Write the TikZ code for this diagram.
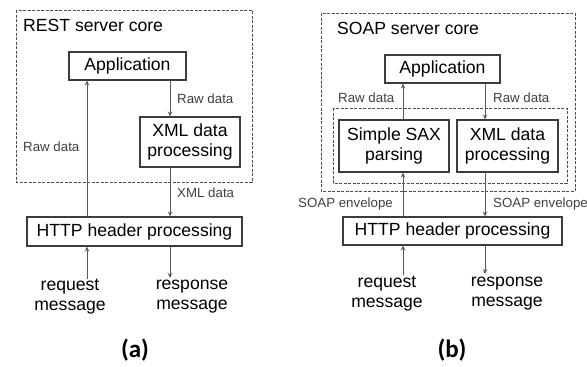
\documentclass[tikz,border=0pt]{standalone}
\usepackage{fontspec}
\setmainfont{Liberation Sans}
\newfontfamily\calib{Carlito}
\usetikzlibrary{arrows.meta}
\definecolor{boxline}{HTML}{3C3C3C}
\definecolor{arrline}{HTML}{5A5A5A}
\definecolor{lbl}{HTML}{404040}
\definecolor{dashc}{HTML}{505050}
\tikzset{
  box/.style={draw=boxline, line width=1.1pt, inner sep=0pt, align=center,
    font=\fontsize{17.6}{20}\selectfont},
  arr/.style={draw=arrline, line width=0.9pt, -{Stealth[length=5pt,width=4.5pt]}},
  lab/.style={text=lbl, inner sep=0pt, font=\fontsize{13.3}{15}\selectfont},
  txt/.style={inner sep=0pt, align=center, font=\fontsize{17.6}{20}\selectfont},
  corebox/.style={draw=dashc, line width=0.8pt, dash pattern=on 3pt off 1.5pt},
  panelcap/.style={inner sep=0pt, font=\calib\bfseries\fontsize{25}{28}\selectfont}
}
\begin{document}
\begin{tikzpicture}[x=1pt,y=-1pt]
\useasboundingbox (0,0) rectangle (587,367);
% ---------------- (a) REST ----------------
\draw[corebox] (16,10) rectangle (252,182);
\node[txt, anchor=west] (resttitle) at (23,25) {REST server core};
\node[box, minimum width=117pt, minimum height=28pt] (appA) at (127.5,66) {Application};
\node[box, minimum width=100pt, minimum height=50pt] (xmlA) at (190,142) {XML data\\processing};
\node[box, minimum width=215pt, minimum height=29pt] (httpA) at (134.5,231.5) {HTTP header processing};
\coordinate (xa1) at (87,0);
\coordinate (xa2) at (170,0);
\coordinate (reqA) at (87,279);
\coordinate (resA) at (170,278);
\draw[arr] (httpA.north -| xa1) -- (appA.south -| xa1);
\draw[arr] (appA.south -| xa2) -- (xmlA.north -| xa2);
\draw[arr] (xmlA.south -| xa2) -- (httpA.north -| xa2);
\draw[arr] (reqA) -- (httpA.south -| xa1);
\draw[arr] (httpA.south -| xa2) -- (resA);
\node[lab, anchor=west] (rawA1) at (177,99) {Raw data};
\node[lab, anchor=west] (rawA2) at (23,147) {Raw data};
\node[lab, anchor=west] (xmldA) at (177,193) {XML data};
\node[txt] (reqtA) at (70,297) {request\\message};
\node[txt] (restA) at (192,297) {response\\message};
\node[panelcap] (capA) at (135,350) {(a)};
% ---------------- (b) SOAP ----------------
\draw[corebox] (321,13) rectangle (575,191);
\draw[corebox] (333,108) rectangle (567,183);
\node[txt, anchor=west] (soaptitle) at (337,28) {SOAP server core};
\node[box, minimum width=115pt, minimum height=28pt] (appB) at (442.5,69) {Application};
\node[box, minimum width=110pt, minimum height=52pt] (saxB) at (394,146) {Simple SAX\\parsing};
\node[box, minimum width=101pt, minimum height=52pt] (xmlB) at (507.5,146) {XML data\\processing};
\node[box, minimum width=219pt, minimum height=28pt] (httpB) at (452.5,231) {HTTP header processing};
\coordinate (xb1) at (403,0);
\coordinate (xb2) at (485,0);
\coordinate (reqB) at (403,275);
\coordinate (resB) at (485,274);
\draw[arr] (saxB.north -| xb1) -- (appB.south -| xb1);
\draw[arr] (appB.south -| xb2) -- (xmlB.north -| xb2);
\draw[arr] (httpB.north -| xb1) -- (saxB.south -| xb1);
\draw[arr] (xmlB.south -| xb2) -- (httpB.north -| xb2);
\draw[arr] (reqB) -- (httpB.south -| xb1);
\draw[arr] (httpB.south -| xb2) -- (resB);
\node[lab, anchor=west] (rawB1) at (338,98) {Raw data};
\node[lab, anchor=west] (rawB2) at (493,98) {Raw data};
\node[lab, anchor=west] (envB1) at (298,204) {SOAP envelope};
\node[lab, anchor=west] (envB2) at (493,204) {SOAP envelope};
\node[txt] (reqtB) at (387,294) {request\\message};
\node[txt] (restB) at (507,294) {response\\message};
\node[panelcap] (capB) at (452,350) {(b)};
\end{tikzpicture}
\end{document}
